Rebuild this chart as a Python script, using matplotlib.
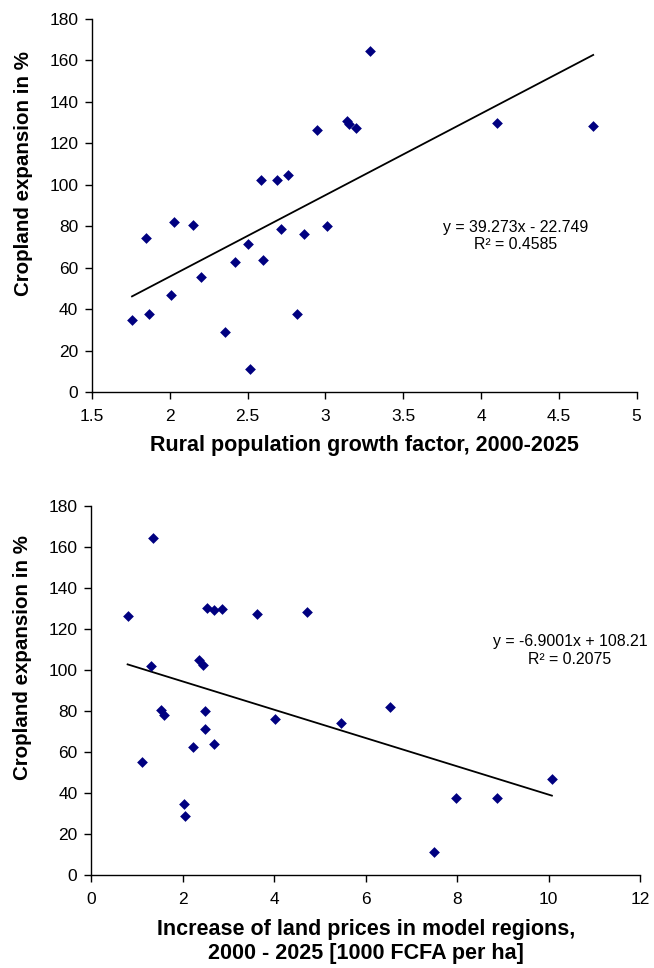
import matplotlib
matplotlib.use('Agg')
import matplotlib.pyplot as plt
import numpy as np

plt.rcParams['font.family'] = ['Liberation Sans', 'DejaVu Sans']

# top panel: rural population growth factor vs cropland expansion
pop_growth = [1.757, 1.847, 1.868, 2.005, 2.029, 2.149, 2.200, 2.357, 2.416,
              2.500, 2.517, 2.588, 2.599, 2.688, 2.716, 2.759, 2.817, 2.860,
              2.948, 3.008, 3.136, 3.149, 3.198, 3.288, 4.100, 4.721]
crop_top = [34.7, 74.3, 37.8, 47.1, 82.3, 80.7, 55.5, 28.9, 62.9,
            71.4, 11.4, 102.4, 64.0, 102.3, 78.6, 105.0, 37.6, 76.4,
            126.5, 80.4, 130.9, 129.4, 127.3, 164.6, 129.9, 128.6]
top_fit = (39.273, -22.749)
top_eq = 'y = 39.273x - 22.749\nR² = 0.4585'

# bottom panel: land price increase vs cropland expansion
land_price = [0.794, 1.348, 1.305, 1.115, 1.523, 1.582, 2.033, 2.048, 2.223,
              2.362, 2.434, 2.485, 2.493, 2.536, 2.690, 2.690, 2.864, 3.615,
              4.023, 4.708, 5.466, 6.531, 7.974, 8.863, 7.493, 10.073]
crop_bot = [126.3, 164.2, 102.1, 55.3, 80.7, 78.2, 34.8, 28.8, 62.6,
            104.9, 102.3, 71.2, 80.2, 130.4, 129.4, 63.7, 129.6, 127.2,
            76.3, 128.3, 74.1, 82.1, 37.4, 37.4, 11.2, 47.0]
bot_fit = (-6.9001, 108.21)
bot_eq = 'y = -6.9001x + 108.21\nR² = 0.2075'

ylabel = 'Cropland expansion in %'

fig = plt.figure(figsize=(6.54, 9.68), dpi=100)
ax1 = fig.add_axes([0.1407, 0.5947, 0.8327, 0.3857])
ax2 = fig.add_axes([0.1396, 0.0961, 0.8390, 0.3812])


def draw(ax, x, y, fit, eq, xlim, xticks, xtick_labels, xlabel, eq_pos, xlab_y, ylab_y):
    ax.scatter(x, y, marker='D', s=30, color='#000080', zorder=3, linewidths=0)
    xs = np.array([min(x), max(x)])
    ax.plot(xs, fit[0] * xs + fit[1], color='black', lw=1.3, zorder=2)
    ax.text(eq_pos[0], eq_pos[1], eq, ha='center', va='center', fontsize=11.4,
            multialignment='center', linespacing=1.2)
    ax.set_xlim(*xlim)
    ax.set_ylim(0, 180)
    ax.set_xticks(xticks)
    ax.set_xticklabels(xtick_labels)
    ax.set_yticks(range(0, 181, 20))
    for s in ['top', 'right']:
        ax.spines[s].set_visible(False)
    for s in ['left', 'bottom']:
        ax.spines[s].set_linewidth(1.0)
    ax.tick_params(direction='out', length=5, width=1.0, labelsize=12.5)
    ax.tick_params(axis='x', pad=7)
    ax.tick_params(axis='y', pad=5)
    ax.set_xlabel(xlabel, fontsize=15.5, fontweight='bold', linespacing=1.2)
    ax.set_ylabel(ylabel, fontsize=14.8, fontweight='bold')
    ax.xaxis.set_label_coords(0.5, xlab_y)
    ax.yaxis.set_label_coords(-0.108, ylab_y)


draw(ax1, pop_growth, crop_top, top_fit, top_eq, (1.5, 5),
     [1.5, 2, 2.5, 3, 3.5, 4, 4.5, 5],
     ['1.5', '2', '2.5', '3', '3.5', '4', '4.5', '5'],
     'Rural population growth factor, 2000-2025', (4.22, 75.5), -0.113, 0.585)

draw(ax2, land_price, crop_bot, bot_fit, bot_eq, (0, 12),
     [0, 2, 4, 6, 8, 10, 12],
     ['0', '2', '4', '6', '8', '10', '12'],
     'Increase of land prices in model regions,\n2000 - 2025 [1000 FCFA per ha]',
     (10.47, 109.5), -0.118, 0.59)

fig.savefig('out.png', dpi=100)
